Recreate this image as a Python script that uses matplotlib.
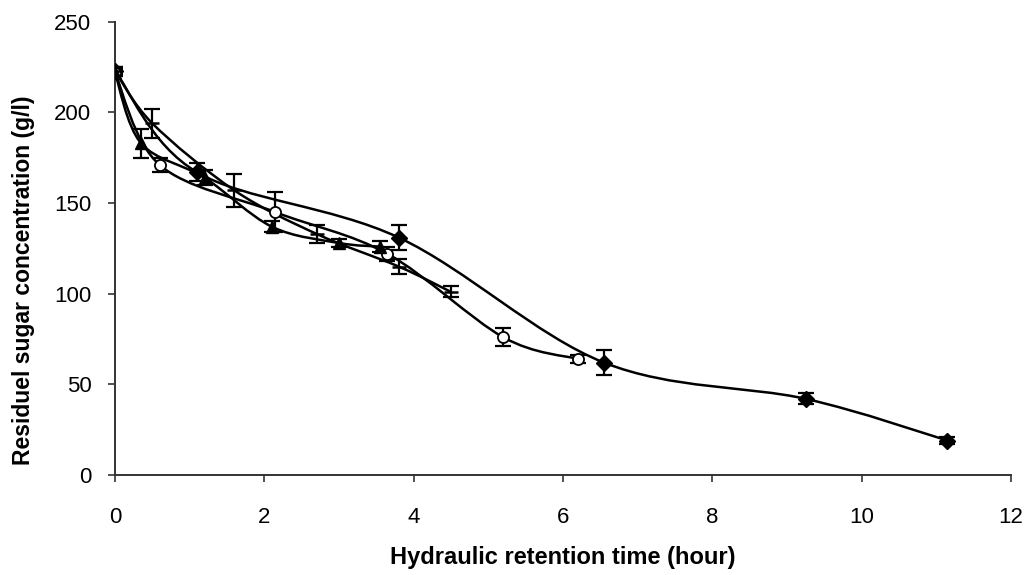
import numpy as np
import matplotlib
matplotlib.use("Agg")
import matplotlib.pyplot as plt
from matplotlib.path import Path
from matplotlib.patches import PathPatch

plt.rcParams['font.family'] = ['Liberation Sans', 'DejaVu Sans']

# Data
diamond_x = [0, 1.1, 3.8, 6.55, 9.25, 11.15]
diamond_y = [223, 167, 131, 62, 42, 19]
diamond_err = [2, 5, 7, 7, 3, 2]

circle_x = [0, 0.6, 2.15, 3.65, 5.2, 6.2]
circle_y = [222, 171, 145, 122, 76, 64]
circle_err = [2, 4, 11, 4, 5, 2]

triangle_x = [0, 0.35, 1.2, 2.1, 3.0, 3.55]
triangle_y = [222, 183, 164, 137, 128, 126]
triangle_err = [2, 8, 4, 3, 2, 3]

dash_x = [0, 0.5, 1.6, 2.7, 3.8, 4.5]
dash_y = [223, 194, 157, 133, 115, 101]
dash_err = [2, 8, 9, 5, 4, 3]

x_ticks = [0, 2, 4, 6, 8, 10, 12]
y_ticks = [0, 50, 100, 150, 200, 250]
x_label = "Hydraulic retention time (hour)"
y_label = "Residuel sugar concentration (g/l)"


def smooth_path(xs, ys):
    """Excel-like smoothed line (Catmull-Rom as cubic Bezier), in data coords."""
    xs = np.asarray(xs, float)
    ys = np.asarray(ys, float)
    pts = np.column_stack([xs, ys])
    n = len(pts)
    verts = [pts[0]]
    codes = [Path.MOVETO]
    for i in range(n - 1):
        p0 = pts[i - 1] if i > 0 else pts[i]
        p1 = pts[i]
        p2 = pts[i + 1]
        p3 = pts[i + 2] if i + 2 < n else pts[i + 1]
        c1 = p1 + (p2 - p0) / 6.0
        c2 = p2 - (p3 - p1) / 6.0
        verts += [c1, c2, p2]
        codes += [Path.CURVE4] * 3
    return Path(verts, codes)


fig = plt.figure(figsize=(10.31, 5.75), dpi=100)
ax = fig.add_axes([0.1115, 0.174, 0.869, 0.788])
fig.patch.set_facecolor('white')

series = [
    (diamond_x, diamond_y, diamond_err, dict(marker='D', ms=8, mfc='black', mec='black')),
    (circle_x, circle_y, circle_err, dict(marker='o', ms=8, mfc='white', mec='black', mew=1.3)),
    (triangle_x, triangle_y, triangle_err, dict(marker='^', ms=9, mfc='black', mec='black')),
    (dash_x, dash_y, dash_err, dict(marker='_', ms=10, mec='black', mew=1.8)),
]

for xs, ys, err, style in series:
    patch = PathPatch(smooth_path(xs, ys), fill=False, edgecolor='black', lw=1.8, zorder=2)
    ax.add_patch(patch)
    ax.errorbar(xs, ys, yerr=err, fmt='none', ecolor='black', elinewidth=1.6,
                capsize=6, capthick=1.6, zorder=3)
    ax.plot(xs, ys, linestyle='none', zorder=4, **style)

ax.set_xlim(0, 12)
ax.set_ylim(0, 250)
ax.set_xticks(x_ticks)
ax.set_yticks(y_ticks)
ax.tick_params(axis='both', direction='out', length=5, width=1.2, labelsize=16, color='#333333')
ax.tick_params(axis='x', pad=18)
ax.tick_params(axis='y', pad=12)
for s in ['top', 'right']:
    ax.spines[s].set_visible(False)
for s in ['left', 'bottom']:
    ax.spines[s].set_linewidth(1.4)
    ax.spines[s].set_color('#333333')

ax.set_xlabel(x_label, fontsize=17, fontweight='bold', labelpad=13)
ax.set_ylabel(y_label, fontsize=16.5, fontweight='bold')
ax.yaxis.set_label_coords(-0.089, 0.43)

fig.savefig('out.png', dpi=100)
